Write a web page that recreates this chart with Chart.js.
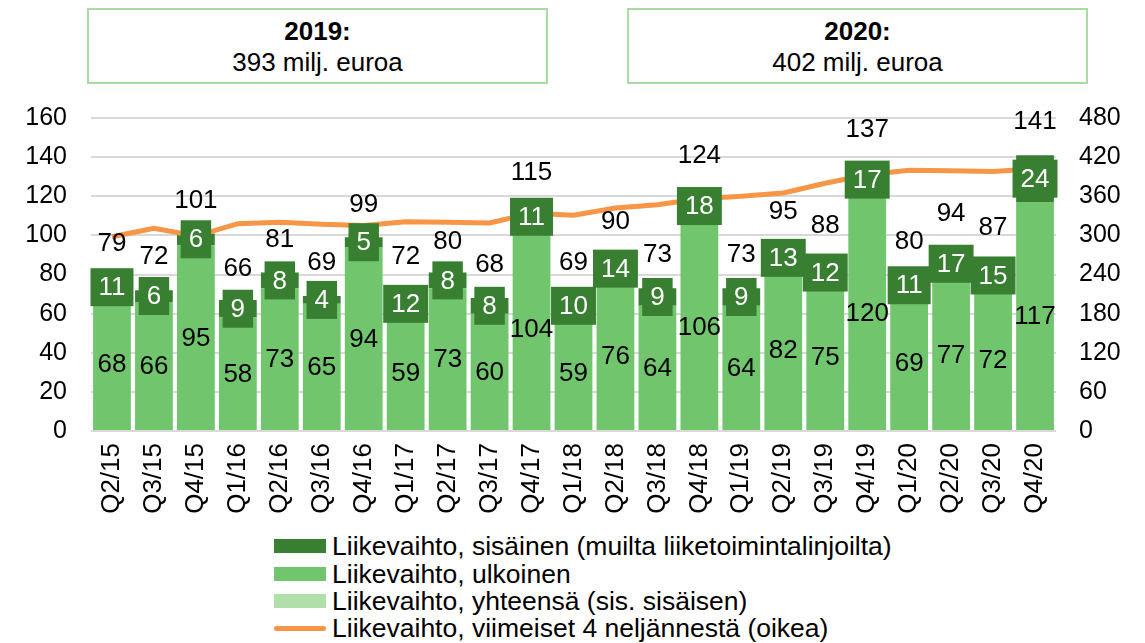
<!DOCTYPE html>
<html>
<head>
<meta charset="utf-8">
<script src="https://cdn.jsdelivr.net/npm/chart.js@4.4.1/dist/chart.umd.min.js"></script>
<style>
  body { margin: 0; background: #fff; font-family: "Liberation Sans", Arial, sans-serif; }
  #wrap { position: relative; width: 1145px; height: 643px; overflow: hidden; }
  #chartBox { position: absolute; left: 0; top: 0; width: 1145px; height: 530px; }
  .yr { position: absolute; top: 8px; height: 76px; width: 461px; border: 2px solid #a9dca3;
        box-sizing: border-box; text-align: center; font-size: 26px; line-height: 31px; padding-top: 6px; color: #000; }
  .yr b { display: block; }
  .leg { position: absolute; left: 274px; height: 27px; line-height: 27px; font-size: 26.5px; white-space: nowrap; color: #000; }
  .leg i { position: absolute; left: 0; top: 6px; width: 52px; height: 14px; }
  .leg span { position: absolute; left: 58px; top: 0; }
  .leg i.ln { top: 11px; height: 5px; border-radius: 3px; }
</style>
</head>
<body>
<div id="wrap">
  <div class="yr" style="left:87px"><b>2019:</b>393 milj. euroa</div>
  <div class="yr" style="left:627px"><b>2020:</b>402 milj. euroa</div>
  <div id="chartBox"><canvas id="c"></canvas></div>
  <div id="legend"></div>
</div>
<script>
const quarters = ['Q2/15','Q3/15','Q4/15','Q1/16','Q2/16','Q3/16','Q4/16','Q1/17','Q2/17','Q3/17','Q4/17',
  'Q1/18','Q2/18','Q3/18','Q4/18','Q1/19','Q2/19','Q3/19','Q4/19','Q1/20','Q2/20','Q3/20','Q4/20'];
const external = [68, 66, 95, 58, 73, 65, 94, 59, 73, 60, 104, 59, 76, 64, 106, 64, 82, 75, 120, 69, 77, 72, 117];
const internal = [11, 6, 6, 9, 8, 4, 5, 12, 8, 8, 11, 10, 14, 9, 18, 9, 13, 12, 17, 11, 17, 15, 24];
const total = [79, 72, 101, 66, 81, 69, 99, 72, 80, 68, 115, 69, 90, 73, 124, 73, 95, 88, 137, 80, 94, 87, 141];
const last4 = [298, 311, 299, 318, 320, 317, 315, 321, 320, 319, 334, 331, 342, 347, 356, 360, 365, 380, 393, 400, 399, 398, 402];
const leftTicks = [0, 20, 40, 60, 80, 100, 120, 140, 160];
const rightTicks = [0, 60, 120, 180, 240, 300, 360, 420, 480];

const names = ['Liikevaihto, sisäinen (muilta liiketoimintalinjoilta)', 'Liikevaihto, ulkoinen',
  'Liikevaihto, yhteensä (sis. sisäisen)', 'Liikevaihto, viimeiset 4 neljännestä (oikea)'];

const darkGreen = '#387f32';
const midGreen = '#71c66d';
const lightGreen = '#b0dfaa';
const orange = '#f79646';
const font = '"Liberation Sans", Arial, sans-serif';

// html legend, one row per series
const legCols = [darkGreen, midGreen, lightGreen, orange];
const rowY = [546, 574, 601, 628];
document.getElementById('legend').innerHTML = names.map((n, i) =>
  `<div class="leg" style="top:${rowY[i] - 13.5}px"><i class="${i === 3 ? 'ln' : ''}" style="background:${legCols[i]}"></i><span>${n}</span></div>`).join('');

// data labels + dark boxes for internal part
const labelPlugin = {
  id: 'labels',
  afterDatasetsDraw(chart) {
    const ctx = chart.ctx;
    ctx.save();
    ctx.font = '26px ' + font;
    ctx.textAlign = 'center';
    ctx.textBaseline = 'middle';
    chart.getDatasetMeta(0).data.forEach((bar, i) => {
      ctx.fillStyle = '#000';
      ctx.fillText(external[i], bar.x, (bar.y + bar.base) / 2 + 1);
    });
    chart.getDatasetMeta(1).data.forEach((bar, i) => {
      const cy = (bar.y + bar.base) / 2;
      const w = ctx.measureText(String(internal[i])).width + 16;
      ctx.fillStyle = darkGreen;
      ctx.fillRect(bar.x - w / 2, cy - 19, w, 38);
      ctx.fillStyle = '#fff';
      ctx.fillText(internal[i], bar.x, cy + 1);
    });
    chart.getDatasetMeta(2).data.forEach((pt, i) => {
      ctx.fillStyle = '#000';
      ctx.fillText(total[i], pt.x, pt.y - 33);
    });
    ctx.restore();
  }
};

new Chart(document.getElementById('c'), {
  type: 'bar',
  data: {
    labels: quarters,
    datasets: [
      { label: names[1], data: external, backgroundColor: midGreen, stack: 's', order: 2,
        categoryPercentage: 1, barPercentage: 0.9 },
      { label: names[0], data: internal, backgroundColor: darkGreen, stack: 's', order: 2,
        categoryPercentage: 1, barPercentage: 0.9 },
      { type: 'line', label: names[2], data: total, showLine: false, pointRadius: 0,
        borderColor: lightGreen, backgroundColor: lightGreen, yAxisID: 'y', order: 3 },
      { type: 'line', label: names[3], data: last4, borderColor: orange, borderWidth: 5,
        pointRadius: 0, tension: 0, fill: false, yAxisID: 'y2', order: 1 }
    ]
  },
  options: {
    responsive: true,
    maintainAspectRatio: false,
    animation: false,
    layout: { padding: { top: 118, left: 0, right: 0, bottom: 0 } },
    plugins: { legend: { display: false }, tooltip: { enabled: false } },
    scales: {
      x: {
        stacked: true,
        grid: { display: false, drawTicks: false },
        border: { display: false },
        ticks: { color: '#000', font: { family: font, size: 26 }, minRotation: 90, maxRotation: 90,
                 autoSkip: false, padding: 12 },
        afterFit: s => { s.height = 99; }
      },
      y: {
        stacked: true, min: 0, max: 160,
        grid: { color: '#d9d9d9', lineWidth: 2, drawTicks: false },
        border: { display: false },
        afterBuildTicks: s => { s.ticks = leftTicks.map(v => ({ value: v })); },
        ticks: { color: '#000', font: { family: font, size: 25 }, padding: 24 },
        afterFit: s => { s.width = 91; }
      },
      y2: {
        position: 'right', min: 0, max: 480,
        grid: { drawOnChartArea: false, drawTicks: false },
        border: { display: false },
        afterBuildTicks: s => { s.ticks = rightTicks.map(v => ({ value: v })); },
        ticks: { color: '#000', font: { family: font, size: 25 }, padding: 23 },
        afterFit: s => { s.width = 89; }
      }
    }
  },
  plugins: [labelPlugin]
});
</script>
</body>
</html>
